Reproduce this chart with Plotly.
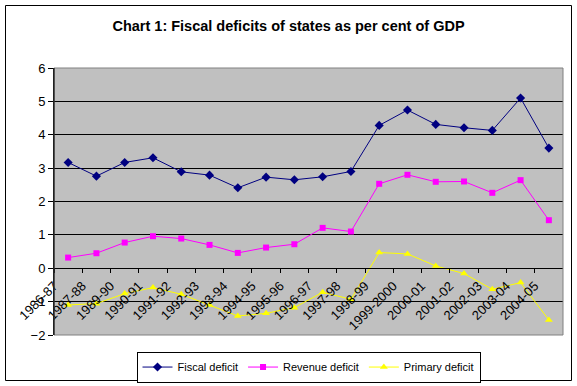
import plotly.graph_objects as go

years = ["1986-87", "1987-88", "1989-90", "1990-91", "1991-92", "1992-93",
         "1993-94", "1994-95", "1995-96", "1996-97", "1997-98", "1998-99",
         "1999-2000", "2000-01", "2001-02", "2002-03", "2003-04", "2004-05"]
fiscal_deficit = [3.17, 2.76, 3.17, 3.31, 2.89, 2.79, 2.41, 2.73, 2.65,
                  2.74, 2.90, 4.28, 4.74, 4.31, 4.21, 4.13, 5.10, 3.60]
revenue_deficit = [0.32, 0.45, 0.77, 0.96, 0.89, 0.70, 0.46, 0.62, 0.72,
                   1.21, 1.10, 2.53, 2.80, 2.59, 2.60, 2.26, 2.64, 1.44]
primary_deficit = [-1.10, -1.06, -0.76, -0.58, -0.78, -1.10, -1.43, -1.35, -1.18,
                   -0.72, -0.93, 0.47, 0.43, 0.07, -0.16, -0.63, -0.43, -1.55]
y_ticks = [-2, -1, 0, 1, 2, 3, 4, 5, 6]

FONT = "Liberation Sans, Arial, sans-serif"
xs = list(range(len(years)))

fig = go.Figure()
fig.add_trace(go.Scatter(x=xs, y=fiscal_deficit, name="Fiscal deficit",
                         mode="lines+markers",
                         line=dict(color="#000080", width=1),
                         marker=dict(symbol="diamond", size=7, color="#000080")))
fig.add_trace(go.Scatter(x=xs, y=revenue_deficit, name="Revenue deficit",
                         mode="lines+markers",
                         line=dict(color="#FF00FF", width=1),
                         marker=dict(symbol="square", size=6, color="#FF00FF")))
fig.add_trace(go.Scatter(x=xs, y=primary_deficit, name="Primary deficit",
                         mode="lines+markers",
                         line=dict(color="#FFFF00", width=1),
                         marker=dict(symbol="triangle-up", size=7, color="#FFFF00")))

fig.update_layout(
    width=577, height=386,
    margin=dict(l=54, r=14, t=68, b=51, autoexpand=False),
    paper_bgcolor="white",
    plot_bgcolor="#C0C0C0",
    font=dict(family=FONT, color="black", size=12),
    title=dict(text="<b>Chart 1: Fiscal deficits of states as per cent of GDP</b>",
               x=0.5, xref="container", y=1 - 21 / 386, yref="container",
               xanchor="center", yanchor="top",
               font=dict(family=FONT, size=14.5, color="black")),
    xaxis=dict(range=[-0.5, len(years) - 0.5],
               tickvals=[i - 0.5 for i in xs], ticktext=years,
               tickangle=-45, showgrid=False, zeroline=False,
               showline=True, linecolor="black", linewidth=1,
               ticks="outside", ticklen=4, tickcolor="black",
               anchor="free", position=0.25,
               tickfont=dict(family=FONT, size=13, color="black")),
    yaxis=dict(range=[-2, 6], tickvals=y_ticks, showgrid=True,
               gridcolor="black", gridwidth=1, zeroline=False,
               showline=True, linecolor="black", linewidth=1,
               ticks="outside", ticklen=5, tickcolor="black",
               tickfont=dict(family=FONT, size=13, color="black")),
    legend=dict(orientation="h", x=0.5, xanchor="center", y=-0.062, yanchor="top",
                bgcolor="white", bordercolor="black", borderwidth=1,
                font=dict(family=FONT, size=11, color="black"),
                itemwidth=30, tracegroupgap=0),
    shapes=[
        dict(type="rect", xref="paper", yref="paper", x0=0, x1=1, y0=0, y1=1,
             line=dict(color="#808080", width=1), layer="above"),
        dict(type="line", xref="paper", yref="paper", x0=0, x1=0, y0=0, y1=1,
             line=dict(color="black", width=1), layer="above"),
        dict(type="rect", xref="paper", yref="paper",
             x0=(5.5 - 54) / 509, x1=(571.5 - 54) / 509,
             y0=(335 - 380.5) / 267, y1=(335 - 5.5) / 267,
             line=dict(color="black", width=1)),
    ],
)

fig.write_html("out.html",
               config={"displayModeBar": False},
               post_script="document.body.style.margin='0';document.body.style.overflow='hidden';")
